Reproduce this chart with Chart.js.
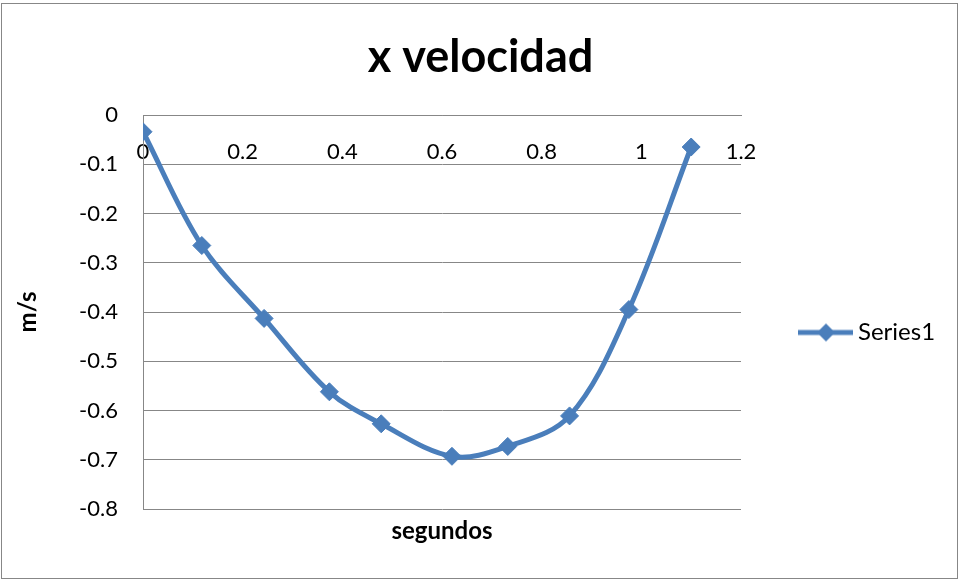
<!DOCTYPE html>
<html>
<head>
<meta charset="utf-8">
<script src="https://cdn.jsdelivr.net/npm/chart.js@4/dist/chart.umd.min.js"></script>
<style>
    html, body { margin: 0; padding: 0; background: #fff; }
    #wrap { width: 961px; height: 580px; }
</style>
</head>
<body>
<div id="wrap"><canvas id="velChart"></canvas></div>
<script>
// tiempo (s) y velocidad en x (m/s)
const tiempos = [0, 0.118, 0.243, 0.374, 0.478, 0.620, 0.732, 0.856, 0.975, 1.100];
const velocidades = [-0.034, -0.265, -0.413, -0.562, -0.627, -0.693, -0.673, -0.611, -0.395, -0.065];
const xTicks = [0, 0.2, 0.4, 0.6, 0.8, 1, 1.2];
const yTicks = [0, -0.1, -0.2, -0.3, -0.4, -0.5, -0.6, -0.7, -0.8];

const BLUE = '#4A7EBB';
const GRID = '#878787';
const FONT = 'Lato, "Open Sans", sans-serif';

// legend symbol: line with a diamond, like Excel
function legendSymbol() {
    const c = document.createElement('canvas');
    c.width = 64; c.height = 22;
    const g = c.getContext('2d');
    g.strokeStyle = BLUE;
    g.lineWidth = 5;
    g.beginPath();
    g.moveTo(8, 11);
    g.lineTo(63, 11);
    g.stroke();
    g.fillStyle = BLUE;
    g.beginPath();
    g.moveTo(36, 2); g.lineTo(45, 11); g.lineTo(36, 20); g.lineTo(27, 11);
    g.closePath();
    g.fill();
    return c;
}

const chartFrame = {
    id: 'chartFrame',
    beforeLayout(chart) {
        const legend = chart.legend;
        if (legend && !legend._patched) {
            const fit = legend.fit.bind(legend);
            legend.fit = function() {
                fit();
                this.width = 220;
            };
            legend._patched = true;
        }
    },
    afterLayout(chart) {
        const legend = chart.legend;
        legend.top += 41;
        legend.bottom += 41;
    },
    afterDraw(chart) {
        const ctx = chart.ctx;
        ctx.save();
        ctx.strokeStyle = GRID;
        ctx.lineWidth = 1;
        ctx.strokeRect(1.5, 3.5, 956, 575);
        ctx.restore();
    }
};

const ctx = document.getElementById('velChart').getContext('2d');
new Chart(ctx, {
    type: 'scatter',
    data: {
        datasets: [{
            label: 'Series1',
            data: tiempos.map((t, i) => ({ x: t, y: velocidades[i] })),
            showLine: true,
            borderColor: BLUE,
            backgroundColor: BLUE,
            borderWidth: 5,
            tension: 0.35,
            pointStyle: 'rectRot',
            pointRadius: 9,
            pointHoverRadius: 9,
            pointBorderWidth: 1,
            pointBackgroundColor: BLUE,
            pointBorderColor: BLUE
        }]
    },
    options: {
        responsive: true,
        maintainAspectRatio: false,
        animation: false,
        layout: { padding: { top: 3, left: 0, right: 0, bottom: 0 } },
        plugins: {
            title: {
                display: true,
                text: 'x velocidad',
                color: '#000',
                font: { family: FONT, size: 45, weight: 'bold' },
                padding: { top: 27, bottom: 31 }
            },
            legend: {
                position: 'right',
                labels: {
                    usePointStyle: true,
                    pointStyleWidth: 48,
                    padding: 57,
                    color: '#000',
                    font: { family: FONT, size: 24 },
                    generateLabels: (chart) => [{
                        text: 'Series1',
                        pointStyle: legendSymbol(),
                        fillStyle: BLUE,
                        strokeStyle: BLUE,
                        lineWidth: 0,
                        datasetIndex: 0
                    }]
                }
            },
            tooltip: { enabled: false }
        },
        scales: {
            x: {
                type: 'linear',
                position: { y: 0 },
                min: 0,
                max: 1.2,
                afterBuildTicks: (axis) => { axis.ticks = xTicks.map(v => ({ value: v })); },
                grid: { display: false, drawTicks: false },
                border: { display: true, color: GRID, width: 1 },
                ticks: {
                    color: '#000',
                    padding: 24,
                    maxRotation: 0,
                    font: { family: FONT, size: 22 },
                    callback: (v) => String(Math.round(v * 10) / 10)
                }
            },
            x2: {
                type: 'linear',
                position: 'bottom',
                min: 0,
                max: 1.2,
                grid: { display: false, drawTicks: false },
                border: { display: false },
                ticks: { display: false },
                afterFit: (axis) => { axis.height = 71; },
                title: {
                    display: true,
                    text: 'segundos',
                    color: '#000',
                    font: { family: FONT, size: 24, weight: 'bold' },
                    padding: { top: 0, bottom: 34 }
                }
            },
            y: {
                type: 'linear',
                position: 'left',
                min: -0.8,
                max: 0,
                afterBuildTicks: (axis) => { axis.ticks = yTicks.map(v => ({ value: v })); },
                afterFit: (axis) => { axis.width = 143; },
                grid: { color: GRID, lineWidth: 1, drawTicks: false },
                border: { display: true, color: GRID, width: 1 },
                ticks: {
                    color: '#000',
                    padding: 25,
                    font: { family: FONT, size: 22 },
                    callback: (v) => String(Math.round(v * 10) / 10)
                },
                title: {
                    display: true,
                    text: 'm/s',
                    color: '#000',
                    font: { family: FONT, size: 24, weight: 'bold' },
                    padding: { top: 14, bottom: 0 }
                }
            }
        }
    },
    plugins: [chartFrame]
});
</script>
</body>
</html>
